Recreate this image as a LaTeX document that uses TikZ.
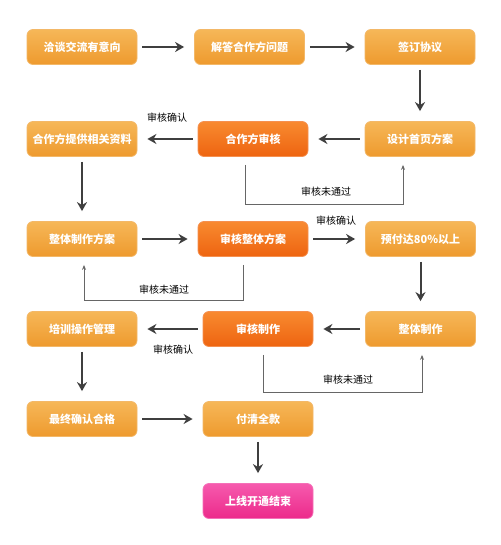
\documentclass[tikz,border=0pt]{standalone}
\usepackage{fontspec}
\newfontfamily\cjk{Noto Sans CJK SC}
\usetikzlibrary{arrows.meta}
\definecolor{lotop}{HTML}{F6B758}
\definecolor{lobot}{HTML}{EE9A2E}
\definecolor{loedge}{HTML}{F3B868}
\definecolor{dotop}{HTML}{F88A30}
\definecolor{dobot}{HTML}{EE6410}
\definecolor{doedge}{HTML}{F59050}
\definecolor{pktop}{HTML}{F65AAE}
\definecolor{pkbot}{HTML}{EC2A8A}
\definecolor{pkedge}{HTML}{F570B8}
\definecolor{arrowc}{HTML}{3F3F3F}
\definecolor{loopc}{HTML}{666666}
\tikzset{
  box/.style={rounded corners=6pt, minimum width=110pt, minimum height=35pt,
    inner sep=0pt, text=white, font=\cjk\bfseries\fontsize{11}{13}\selectfont,
    line width=0.8pt},
  light/.style={box, top color=lotop, bottom color=lobot, draw=loedge},
  dark/.style={box, top color=dotop, bottom color=dobot, draw=doedge},
  pink/.style={box, top color=pktop, bottom color=pkbot, draw=pkedge},
  mainarrow/.style={draw=arrowc, line width=2pt,
    -{Stealth[length=9pt,width=10pt]}, shorten <=5pt, shorten >=10pt},
  loopline/.style={draw=loopc, line width=1pt,
    -{Stealth[length=5pt,width=4pt]}, shorten <=8pt, shorten >=8pt},
  lbl/.style={font=\cjk\fontsize{10}{12}\selectfont, text=black, inner sep=0pt}
}
\begin{document}
\begin{tikzpicture}[x=1pt,y=-1pt]
\useasboundingbox[fill=white] (0,0) rectangle (500,545);
% row 1
\node[light] (a1) at (82,47) {洽谈交流有意向};
\node[light] (a2) at (249.5,47) {解答合作方问题};
\node[light] (a3) at (420,47) {签订协议};
% row 2
\node[light] (b1) at (82,139) {合作方提供相关资料};
\node[dark]  (b2) at (253,139) {合作方审核};
\node[light] (b3) at (420,139) {设计首页方案};
% row 3
\node[light] (c1) at (82,239) {整体制作方案};
\node[dark]  (c2) at (253,239) {审核整体方案};
\node[light] (c3) at (420.5,239) {预付达80\%以上};
% row 4
\node[light] (d1) at (82,329) {培训操作管理};
\node[dark]  (d2) at (258,329) {审核制作};
\node[light] (d3) at (420.5,329) {整体制作};
% row 5
\node[light] (e1) at (82,419) {最终确认合格};
\node[light] (e2) at (258,419) {付清全款};
\node[pink]  (f)  at (258,501) {上线开通结束};
% main arrows
\draw[mainarrow] (a1) -- (a2);
\draw[mainarrow] (a2) -- (a3);
\draw[mainarrow] (a3) -- (b3);
\draw[mainarrow] (b3) -- (b2);
\draw[mainarrow] (b2) -- (b1);
\draw[mainarrow] (b1) -- (c1);
\draw[mainarrow] (c1) -- (c2);
\draw[mainarrow] (c2) -- (c3);
\draw[mainarrow] (c3) -- (d3);
\draw[mainarrow] (d3) -- (d2);
\draw[mainarrow] (d2) -- (d1);
\draw[mainarrow] (d1) -- (e1);
\draw[mainarrow] (e1) -- (e2);
\draw[mainarrow] (e2) -- (f);
% loops
\coordinate (l1a) at (245,204);
\coordinate (l1b) at (403,204);
\draw[loopline] (b2.south -| l1a) -- (l1a) -- (l1b) -- (b3.south -| l1b);
\coordinate (l2a) at (243,300);
\coordinate (l2b) at (84,300);
\draw[loopline] (c2.south -| l2a) -- (l2a) -- (l2b) -- (c1.south -| l2b);
\coordinate (l3a) at (263,392);
\coordinate (l3b) at (422,392);
\draw[loopline] (d2.south -| l3a) -- (l3a) -- (l3b) -- (d3.south -| l3b);
% labels
\node[lbl] (t1) at (167,118) {审核确认};
\node[lbl] (t2) at (326,192) {审核未通过};
\node[lbl] (t3) at (336,221) {审核确认};
\node[lbl] (t4) at (164,290) {审核未通过};
\node[lbl] (t5) at (173,350) {审核确认};
\node[lbl] (t6) at (348,380) {审核未通过};
\end{tikzpicture}
\end{document}
